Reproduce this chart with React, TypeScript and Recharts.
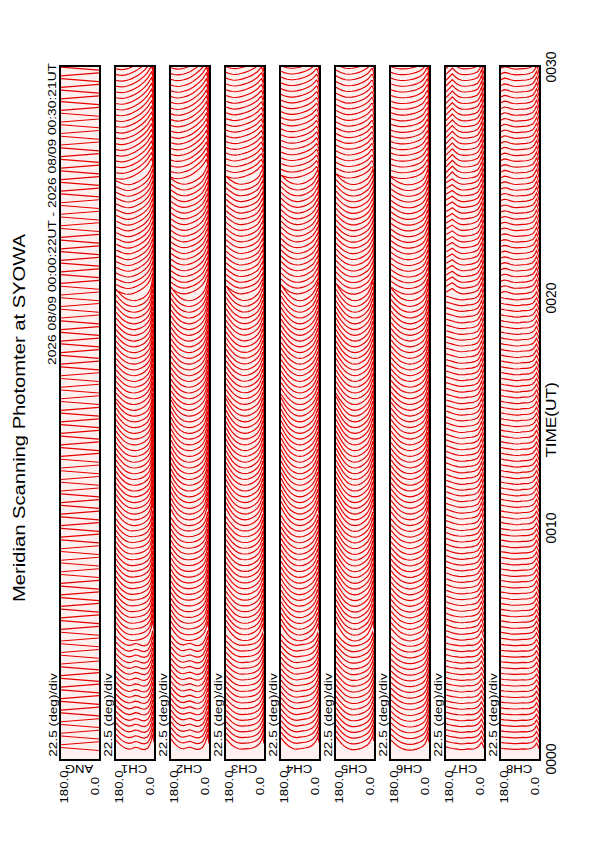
import React from 'react';
import { LineChart, Line, XAxis, YAxis } from 'recharts';

// ---------------------------------------------------------------------------
// data
// ---------------------------------------------------------------------------

const CHANNELS = ['ANG', 'CH1', 'CH2', 'CH3', 'CH4', 'CH5', 'CH6', 'CH7', 'CH8'];

// scan start, seconds after 00:00:00 UT (one scan every 15 s)
const SCAN_SECONDS = [
  22, 37, 52, 67, 82, 97, 112, 127, 142, 157, 172, 187, 202, 217, 232, 247, 262, 277, 292, 307,
  322, 337, 352, 367, 382, 397, 412, 427, 442, 457, 472, 487, 502, 517, 532, 547, 562, 577, 592, 607,
  622, 637, 652, 667, 682, 697, 712, 727, 742, 757, 772, 787, 802, 817, 832, 847, 862, 877, 892, 907,
  922, 937, 952, 967, 982, 997, 1012, 1027, 1042, 1057, 1072, 1087, 1102, 1117, 1132, 1147, 1162, 1177, 1192, 1207,
  1222, 1237, 1252, 1267, 1282, 1297, 1312, 1327, 1342, 1357, 1372, 1387, 1402, 1417, 1432, 1447, 1462, 1477, 1492, 1507,
  1522, 1537, 1552, 1567, 1582, 1597, 1612, 1627, 1642, 1657, 1672, 1687, 1702, 1717, 1732, 1747, 1762, 1777, 1792, 1807,
];

// scan angle samples (deg), 180 on the left edge, 0 on the right
const ANGLES = [180, 165, 150, 135, 120, 105, 90, 75, 60, 45, 30, 20, 12, 6, 0];
const ANG_ANGLES = [180, 90, 0];

// ANG trace: alternating scan direction (offset in minutes)
const ANG_FORWARD = [0.13, 0.065, 0.0];
const ANG_BACKWARD = [0.0, 0.065, 0.13];

// channel profiles, one per 5-minute block (offset in minutes of the time axis)
const CH1_PROFILES = [
  [0.45, 0.3, 0.18, 0.1, 0.06, 0.08, 0.14, 0.12, 0.06, 0.04, 0.1, 0.25, 0.45, 0.7, 0.35],
  [0.55, 0.35, 0.2, 0.1, 0.04, 0.02, 0.03, 0.05, 0.08, 0.14, 0.24, 0.38, 0.6, 0.9, 0.45],
  [0.6, 0.4, 0.24, 0.12, 0.05, 0.01, 0.0, 0.02, 0.06, 0.13, 0.25, 0.4, 0.65, 1.0, 0.5],
  [0.5, 0.34, 0.2, 0.1, 0.04, 0.01, 0.0, 0.03, 0.08, 0.16, 0.3, 0.45, 0.7, 1.0, 0.55],
  [0.2, 0.14, 0.08, 0.04, 0.03, 0.05, 0.1, 0.16, 0.24, 0.34, 0.48, 0.62, 0.8, 0.95, 0.4],
  [0.05, 0.03, 0.02, 0.04, 0.08, 0.13, 0.2, 0.28, 0.38, 0.5, 0.65, 0.8, 0.92, 0.75, 0.2],
];
const CH2_PROFILES = [
  [0.5, 0.32, 0.18, 0.1, 0.08, 0.12, 0.15, 0.1, 0.05, 0.06, 0.14, 0.3, 0.5, 0.7, 0.3],
  [0.6, 0.38, 0.22, 0.11, 0.05, 0.02, 0.02, 0.04, 0.08, 0.15, 0.26, 0.4, 0.6, 0.85, 0.4],
  [0.7, 0.45, 0.26, 0.13, 0.05, 0.01, 0.0, 0.02, 0.07, 0.15, 0.28, 0.45, 0.68, 0.95, 0.5],
  [0.6, 0.4, 0.24, 0.12, 0.05, 0.01, 0.0, 0.03, 0.09, 0.18, 0.32, 0.48, 0.7, 0.95, 0.5],
  [0.3, 0.2, 0.12, 0.07, 0.05, 0.06, 0.1, 0.15, 0.22, 0.32, 0.45, 0.6, 0.78, 0.9, 0.4],
  [0.1, 0.06, 0.04, 0.05, 0.08, 0.12, 0.18, 0.26, 0.36, 0.48, 0.62, 0.76, 0.88, 0.7, 0.2],
];
const CH3_PROFILES = [
  [0.5, 0.35, 0.22, 0.13, 0.08, 0.06, 0.07, 0.08, 0.1, 0.14, 0.22, 0.32, 0.45, 0.6, 0.3],
  [0.65, 0.45, 0.28, 0.15, 0.07, 0.03, 0.02, 0.03, 0.07, 0.14, 0.25, 0.38, 0.55, 0.75, 0.4],
  [0.75, 0.5, 0.3, 0.16, 0.07, 0.02, 0.0, 0.02, 0.07, 0.15, 0.27, 0.42, 0.6, 0.8, 0.45],
  [0.65, 0.45, 0.28, 0.15, 0.07, 0.02, 0.01, 0.03, 0.08, 0.16, 0.28, 0.42, 0.6, 0.78, 0.45],
  [0.4, 0.28, 0.18, 0.1, 0.06, 0.05, 0.07, 0.1, 0.15, 0.22, 0.32, 0.45, 0.6, 0.7, 0.35],
  [0.15, 0.1, 0.07, 0.06, 0.08, 0.11, 0.15, 0.2, 0.26, 0.34, 0.44, 0.55, 0.62, 0.5, 0.2],
];
const CH4_PROFILES = [
  [0.55, 0.38, 0.24, 0.14, 0.08, 0.06, 0.08, 0.1, 0.12, 0.16, 0.24, 0.34, 0.46, 0.6, 0.35],
  [0.7, 0.48, 0.3, 0.16, 0.07, 0.02, 0.01, 0.03, 0.08, 0.16, 0.28, 0.42, 0.58, 0.75, 0.45],
  [0.8, 0.55, 0.34, 0.18, 0.08, 0.02, 0.0, 0.02, 0.08, 0.17, 0.3, 0.46, 0.64, 0.82, 0.5],
  [0.7, 0.5, 0.32, 0.18, 0.08, 0.02, 0.0, 0.02, 0.08, 0.17, 0.3, 0.45, 0.62, 0.8, 0.5],
  [0.45, 0.32, 0.2, 0.12, 0.07, 0.05, 0.06, 0.09, 0.14, 0.22, 0.32, 0.44, 0.58, 0.68, 0.4],
  [0.2, 0.14, 0.1, 0.08, 0.08, 0.1, 0.13, 0.17, 0.22, 0.29, 0.38, 0.48, 0.56, 0.5, 0.25],
];
const CH5_PROFILES = [
  [0.6, 0.42, 0.27, 0.15, 0.08, 0.04, 0.04, 0.06, 0.1, 0.16, 0.25, 0.36, 0.5, 0.65, 0.4],
  [0.8, 0.55, 0.34, 0.18, 0.08, 0.02, 0.0, 0.02, 0.08, 0.17, 0.3, 0.46, 0.64, 0.85, 0.5],
  [0.85, 0.6, 0.37, 0.2, 0.08, 0.02, 0.0, 0.02, 0.08, 0.18, 0.32, 0.5, 0.7, 0.9, 0.55],
  [0.75, 0.52, 0.33, 0.18, 0.08, 0.02, 0.0, 0.02, 0.08, 0.17, 0.31, 0.47, 0.66, 0.85, 0.5],
  [0.5, 0.35, 0.22, 0.13, 0.07, 0.04, 0.04, 0.07, 0.12, 0.2, 0.3, 0.42, 0.56, 0.68, 0.4],
  [0.25, 0.18, 0.12, 0.08, 0.07, 0.08, 0.1, 0.14, 0.19, 0.26, 0.35, 0.45, 0.55, 0.55, 0.3],
];
const CH6_PROFILES = [
  [0.45, 0.32, 0.2, 0.12, 0.06, 0.03, 0.02, 0.03, 0.06, 0.11, 0.18, 0.28, 0.42, 0.6, 0.35],
  [0.55, 0.38, 0.24, 0.13, 0.06, 0.02, 0.0, 0.02, 0.06, 0.12, 0.21, 0.33, 0.5, 0.72, 0.4],
  [0.6, 0.42, 0.26, 0.14, 0.06, 0.02, 0.0, 0.02, 0.06, 0.13, 0.23, 0.36, 0.55, 0.8, 0.45],
  [0.55, 0.38, 0.24, 0.13, 0.06, 0.02, 0.0, 0.02, 0.06, 0.13, 0.23, 0.36, 0.55, 0.78, 0.45],
  [0.35, 0.25, 0.16, 0.1, 0.05, 0.03, 0.03, 0.05, 0.09, 0.15, 0.24, 0.36, 0.52, 0.7, 0.35],
  [0.15, 0.1, 0.07, 0.05, 0.05, 0.06, 0.08, 0.11, 0.15, 0.21, 0.3, 0.42, 0.56, 0.62, 0.25],
];
const CH7_PROFILES = [
  [0.16, 0.12, 0.09, 0.07, 0.05, 0.04, 0.05, 0.07, 0.06, 0.08, 0.14, 0.24, 0.36, 0.26, 0.1],
  [0.2, 0.15, 0.1, 0.07, 0.05, 0.04, 0.05, 0.07, 0.08, 0.11, 0.17, 0.3, 0.45, 0.32, 0.12],
  [0.22, 0.17, 0.12, 0.08, 0.05, 0.04, 0.05, 0.07, 0.08, 0.11, 0.18, 0.32, 0.5, 0.34, 0.12],
  [0.2, 0.16, 0.12, 0.08, 0.05, 0.04, 0.05, 0.07, 0.08, 0.11, 0.18, 0.32, 0.5, 0.34, 0.12],
  [0.12, 0.2, 0.28, 0.17, 0.09, 0.05, 0.05, 0.07, 0.09, 0.13, 0.2, 0.34, 0.52, 0.34, 0.1],
  [0.06, 0.2, 0.34, 0.2, 0.1, 0.06, 0.05, 0.06, 0.08, 0.11, 0.18, 0.32, 0.5, 0.3, 0.08],
];
const CH8_PROFILES = [
  [0.1, 0.08, 0.07, 0.06, 0.05, 0.05, 0.06, 0.07, 0.06, 0.08, 0.12, 0.2, 0.32, 0.24, 0.08],
  [0.12, 0.1, 0.08, 0.06, 0.05, 0.05, 0.06, 0.07, 0.07, 0.09, 0.13, 0.22, 0.36, 0.26, 0.08],
  [0.14, 0.11, 0.09, 0.07, 0.05, 0.04, 0.05, 0.07, 0.07, 0.09, 0.14, 0.24, 0.38, 0.28, 0.1],
  [0.14, 0.11, 0.09, 0.07, 0.05, 0.04, 0.05, 0.07, 0.07, 0.09, 0.14, 0.24, 0.38, 0.28, 0.1],
  [0.1, 0.15, 0.13, 0.08, 0.05, 0.04, 0.05, 0.06, 0.07, 0.1, 0.15, 0.26, 0.42, 0.3, 0.1],
  [0.08, 0.15, 0.13, 0.08, 0.05, 0.04, 0.05, 0.06, 0.07, 0.1, 0.16, 0.28, 0.44, 0.32, 0.1],
];

const ANGLE_TICKS = [22.5, 45, 67.5, 90, 112.5, 135, 157.5];
const MINUTE_TICKS = [1, 2, 3, 4, 6, 7, 8, 9, 11, 12, 13, 14, 16, 17, 18, 19, 21, 22, 23, 24, 26, 27, 28, 29];
const FIVE_MIN_TICKS = [5, 15, 25];
const TEN_MIN_TICKS = [10, 20];
const TIME_LABELS = ['0000', '0010', '0020', '0030'];
const TIME_LABEL_MIN = [0, 10, 20, 30];

// ---------------------------------------------------------------------------
// layout
// ---------------------------------------------------------------------------

const PANEL_LEFT = 59;
const PANEL_PITCH = 55;
const PANEL_W = 42;
const PANEL_TOP = 65;
const PANEL_H = 696;
const INNER_W = PANEL_W - 4;
const INNER_H = PANEL_H - 4;
const SEGMENT_SECONDS = 300;
const FONT = '"Liberation Sans", Arial, Helvetica, sans-serif';
const RED = '#e40000';

const minuteToY = (m: number) => PANEL_TOP + 2 + INNER_H - (m / 30) * INNER_H;

const PANELS = [
  { profiles: [ANG_FORWARD, ANG_BACKWARD], angles: ANG_ANGLES, alternate: true },
  { profiles: CH1_PROFILES, angles: ANGLES, alternate: false },
  { profiles: CH2_PROFILES, angles: ANGLES, alternate: false },
  { profiles: CH3_PROFILES, angles: ANGLES, alternate: false },
  { profiles: CH4_PROFILES, angles: ANGLES, alternate: false },
  { profiles: CH5_PROFILES, angles: ANGLES, alternate: false },
  { profiles: CH6_PROFILES, angles: ANGLES, alternate: false },
  { profiles: CH7_PROFILES, angles: ANGLES, alternate: false },
  { profiles: CH8_PROFILES, angles: ANGLES, alternate: false },
];

type Row = { a: number; v: number | null };

// one row per sample, a null row between scans so the line breaks
function buildRows(panel: (typeof PANELS)[number]): Row[] {
  const rows: Row[] = [];
  SCAN_SECONDS.forEach((sec, k) => {
    const base = sec / 60;
    const prof = panel.alternate
      ? panel.profiles[k % 2]
      : panel.profiles[Math.min(panel.profiles.length - 1, Math.floor(sec / SEGMENT_SECONDS))];
    panel.angles.forEach((a, j) => rows.push({ a, v: base + prof[j] }));
    rows.push({ a: 0, v: null });
  });
  return rows;
}

function RotText({ x, y, angle, size, stretch = 1, children }: {
  x: number; y: number; angle: number; size: number; stretch?: number; children: React.ReactNode;
}) {
  return (
    <div
      style={{
        position: 'absolute', left: x, top: y, transformOrigin: '0 0',
        transform: `rotate(${angle}deg) translate(-50%, -50%)`,
        whiteSpace: 'nowrap', lineHeight: 1, fontSize: size, fontFamily: FONT, color: '#000',
      }}
    >
      <span style={{ display: 'inline-block', transform: `scaleX(${stretch})` }}>{children}</span>
    </div>
  );
}

function Panel({ index }: { index: number }) {
  const rows = buildRows(PANELS[index]);
  const left = PANEL_LEFT + index * PANEL_PITCH;
  const yProps = { type: 'number' as const, domain: [0, 30], allowDataOverflow: true, mirror: true, tick: false, axisLine: false, stroke: '#000' };
  const xProps = { type: 'number' as const, dataKey: 'a', domain: [0, 180], reversed: true, allowDataOverflow: true, mirror: true, tick: false, axisLine: false, stroke: '#000' };
  return (
    <div
      style={{
        position: 'absolute', left, top: PANEL_TOP, width: PANEL_W, height: PANEL_H,
        border: '2px solid #000', boxSizing: 'border-box', background: '#fff0f0',
      }}
    >
      <LineChart width={INNER_W} height={INNER_H} data={rows} margin={{ top: 0, right: 0, bottom: 0, left: 0 }}>
        <XAxis xAxisId="b" orientation="bottom" ticks={ANGLE_TICKS} tickSize={3} {...xProps} />
        <XAxis xAxisId="t" orientation="top" ticks={ANGLE_TICKS} tickSize={3} {...xProps} />
        <YAxis yAxisId="l" orientation="left" ticks={MINUTE_TICKS} tickSize={2} {...yProps} />
        <YAxis yAxisId="r" orientation="right" ticks={MINUTE_TICKS} tickSize={2} {...yProps} />
        <YAxis yAxisId="l5" orientation="left" ticks={FIVE_MIN_TICKS} tickSize={4} {...yProps} />
        <YAxis yAxisId="r5" orientation="right" ticks={FIVE_MIN_TICKS} tickSize={4} {...yProps} />
        <YAxis yAxisId="l10" orientation="left" ticks={TEN_MIN_TICKS} tickSize={7} {...yProps} />
        <YAxis yAxisId="r10" orientation="right" ticks={TEN_MIN_TICKS} tickSize={7} {...yProps} />
        <Line
          xAxisId="b"
          yAxisId="l"
          dataKey="v"
          stroke={RED}
          strokeWidth={1.15}
          dot={false}
          activeDot={false}
          connectNulls={false}
          isAnimationActive={false}
        />
      </LineChart>
    </div>
  );
}

export default function App() {
  return (
    <div style={{ position: 'absolute', left: 0, top: 0, width: 595, height: 842, background: '#fff', overflow: 'hidden' }}>
      <RotText x={20} y={418} angle={-90} size={16} stretch={1.26}>Meridian Scanning Photomter at SYOWA</RotText>
      <RotText x={53} y={214} angle={-90} size={11.5} stretch={1.2}>2026 08/09 00:00:22UT - 2026 08/09 00:30:21UT</RotText>

      {CHANNELS.map((name, i) => {
        const left = PANEL_LEFT + i * PANEL_PITCH;
        return (
          <React.Fragment key={name}>
            <Panel index={i} />
            <RotText x={left - 6} y={715} angle={-90} size={10.5} stretch={1.3}>22.5 (deg)/div</RotText>
            <RotText x={left + 20} y={768} angle={180} size={11} stretch={1.2}>{name}</RotText>
            <RotText x={left + 5} y={787} angle={-90} size={11} stretch={1.2}>180.0</RotText>
            <RotText x={left + 36} y={786} angle={-90} size={11} stretch={1.2}>0.0</RotText>
          </React.Fragment>
        );
      })}

      {TIME_LABELS.map((t, i) => (
        <RotText key={t} x={551} y={minuteToY(TIME_LABEL_MIN[i])} angle={-90} size={14}>{t}</RotText>
      ))}
      <RotText x={550} y={420} angle={-90} size={15} stretch={1.15}>TIME(UT)</RotText>
    </div>
  );
}
